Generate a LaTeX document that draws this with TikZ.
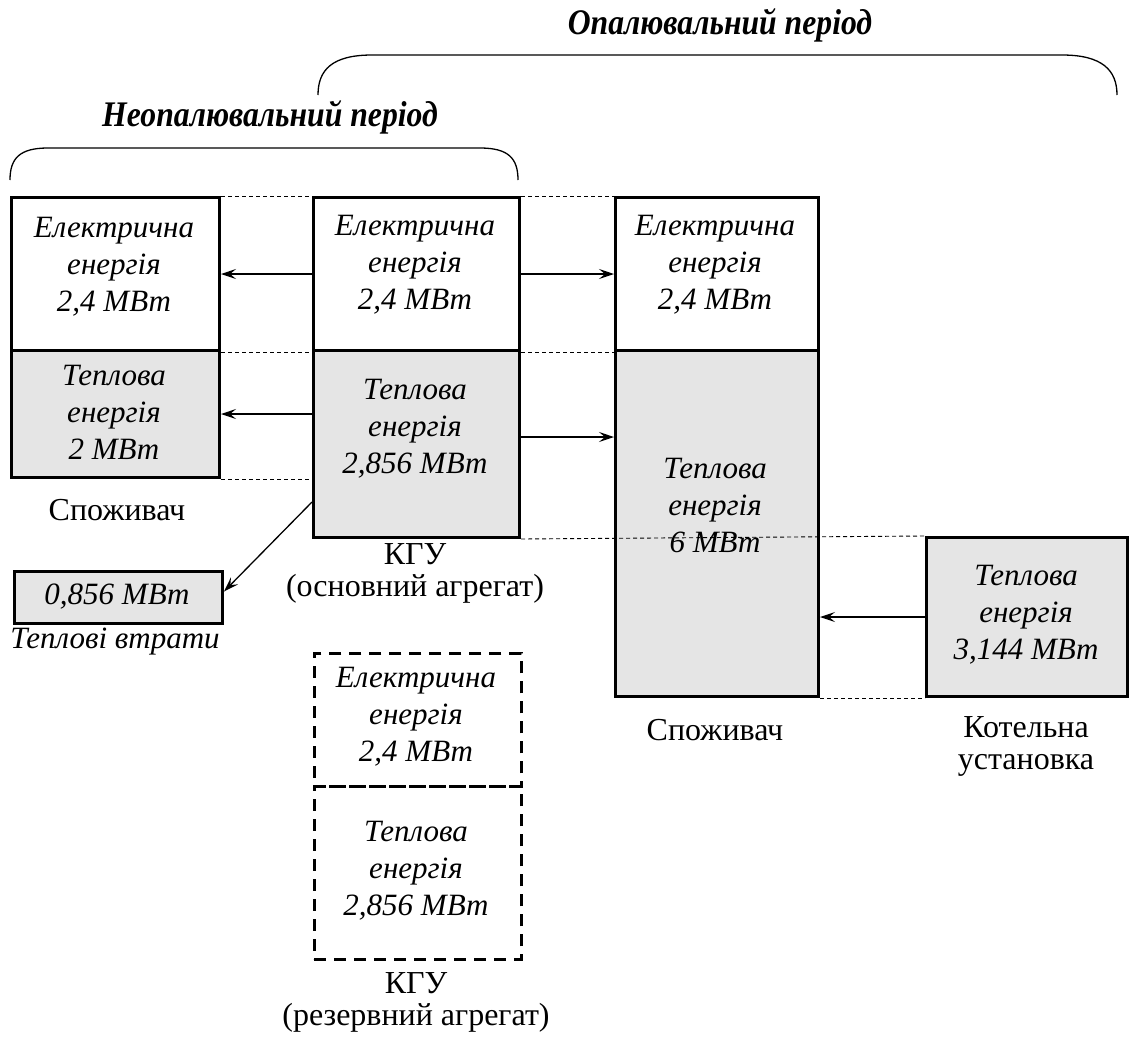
\documentclass[tikz,border=0pt]{standalone}
\usepackage{fontspec}
\usepackage{graphicx}
\setmainfont{Liberation Serif}
\usetikzlibrary{arrows.meta}
\begin{document}
\begin{tikzpicture}[x=1pt,y=-1pt,
  box/.style={draw, line width=3pt, anchor=north west, inner sep=0pt},
  heatbox/.style={box, fill=black!10},
  resbox/.style={draw, line width=2.5pt, dash pattern=on 12pt off 8pt, anchor=north west, inner sep=0pt},
  txt/.style={align=center, inner sep=0pt, font=\itshape\fontsize{31}{37}\selectfont},
  lbl/.style={align=center, inner sep=0pt, font=\fontsize{32}{32}\selectfont},
  head/.style={inner sep=0pt, font=\bfseries\itshape\fontsize{36}{38}\selectfont},
  guide/.style={line width=0.9pt, dash pattern=on 4pt off 3pt},
  arr/.style={line width=1.3pt, -{Stealth[length=15pt,width=10pt,inset=6pt]}},
  brace/.style={line width=1.3pt}]
\useasboundingbox (0,0) rectangle (1129,1039);

% Consumer in the non-heating period
\node[box, minimum width=208pt, minimum height=153pt] (ce) at (10,196) {};
\node[heatbox, minimum width=208pt, minimum height=127pt] (ch) at (10,349) {};
\node[txt] (ceT) at (114,267) {Електрична\\енергія\\2,4 МВт};
\node[txt] (chT) at (114,412) {Теплова\\енергія\\2 МВт};
\node[lbl] (chL) at (117,510) {Споживач};

% Main cogeneration unit
\node[box, minimum width=206pt, minimum height=153pt] (ke) at (312,196) {};
\node[heatbox, minimum width=206pt, minimum height=187pt] (kh) at (312,349) {};
\node[txt] (keT) at (415,265) {Електрична\\енергія\\2,4 МВт};
\node[txt] (khT) at (415,429) {Теплова\\енергія\\2,856 МВт};
\node[lbl] (khL) at (415,573) {КГУ\\(основний агрегат)};

% Consumer in the heating period
\node[box, minimum width=203pt, minimum height=153pt] (re) at (614,196) {};
\node[heatbox, minimum width=203pt, minimum height=346pt] (rh) at (614,349) {};
\node[txt] (reT) at (715,265) {Електрична\\енергія\\2,4 МВт};
\node[txt] (rhT) at (715,505) {Теплова\\енергія\\6 МВт};
\node[lbl] (rhL) at (715,730) {Споживач};

% Boiler plant
\node[heatbox, minimum width=201pt, minimum height=159pt] (bo) at (925,536) {};
\node[txt] (boT) at (1026,615) {Теплова\\енергія\\3,144 МВт};
\node[lbl] (boL) at (1026,746) {Котельна\\установка};

% Heat losses
\node[heatbox, minimum width=208pt, minimum height=52pt] (lo) at (13,570) {};
\node[txt] (loT) at (117,597) {0,856 МВт};
\node[txt] (loL) at (115,642) {Теплові втрати};

% Reserve cogeneration unit
\node[resbox, minimum width=207pt, minimum height=133pt] (se) at (313,652) {};
\node[resbox, minimum width=207pt, minimum height=173pt] (sh) at (313,785) {};
\node[txt] (seT) at (416,717) {Електрична\\енергія\\2,4 МВт};
\node[txt] (shT) at (416,871) {Теплова\\енергія\\2,856 МВт};
\node[lbl] (shL) at (416,1002) {КГУ\\(резервний агрегат)};

% Level guides
\draw[guide] (ce.north east) -- (ke.north west);
\draw[guide] (ke.north east) -- (re.north west);
\draw[guide] (ce.south east) -- (ke.south west);
\draw[guide] (ke.south east) -- (re.south west);
\draw[guide] (ch.south east) -- (ch.south east -| kh.west);
\draw[guide] (kh.south east) -- (bo.north west);
\draw[guide] (rh.south east) -- (bo.south west);

% Energy flows
\draw[arr] (ke.west) -- (ce.east);
\draw[arr] (ch.east -| kh.west) -- (ch.east);
\draw[arr] (ke.east) -- (re.west);
\draw[arr] ([yshift=7pt]kh.east) -- ([yshift=7pt]kh.east -| rh.west);
\draw[arr] (bo.west) -- (bo.west -| rh.east);
\draw[arr] ([yshift=-58pt]kh.west) -- ([yshift=6pt]lo.east);

% Period braces
\node[head] (nh) at (270,117) {\scalebox{0.88}[1]{Неопалювальний період}};
\node[head] (hh) at (720,25) {\scalebox{0.88}[1]{Опалювальний період}};
\draw[brace] (10,180) .. controls (10,158) and (20,148) .. (48,148) -- (480,148)
  .. controls (508,148) and (518,158) .. (518,180);
\draw[brace] (318,95) .. controls (318,70) and (332,55) .. (372,55) -- (1062,55)
  .. controls (1102,55) and (1117,70) .. (1117,95);
\end{tikzpicture}
\end{document}
